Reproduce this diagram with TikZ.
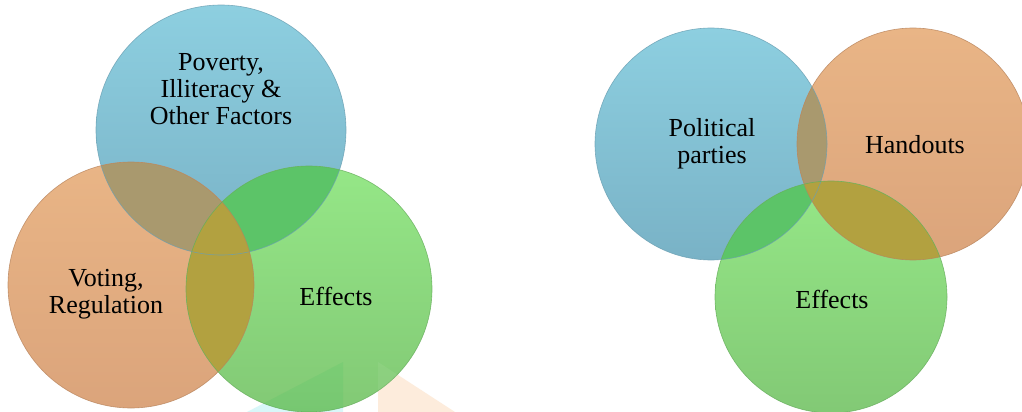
\documentclass[tikz,border=0pt]{standalone}
\usepackage{fontspec}
\setmainfont{Liberation Serif}
\definecolor{blueTop}{HTML}{8DCFE0}
\definecolor{blueBot}{HTML}{79B2C6}
\definecolor{blueEdge}{HTML}{6A9FB2}
\definecolor{orangeTop}{HTML}{E9B586}
\definecolor{orangeBot}{HTML}{DBA47B}
\definecolor{orangeEdge}{HTML}{B8845C}
\definecolor{greenTop}{HTML}{95E787}
\definecolor{greenBot}{HTML}{82C975}
\definecolor{greenEdge}{HTML}{66AD5C}
\definecolor{ovBO}{HTML}{A9996E}
\definecolor{ovBG}{HTML}{5CC468}
\definecolor{ovOG}{HTML}{B2A140}
\definecolor{wmCyan}{HTML}{1BD3E0}
\definecolor{wmOrange}{HTML}{F7A050}
\tikzset{
  bluec/.style={circle, inner sep=0pt, top color=blueTop, bottom color=blueBot},
  orangec/.style={circle, inner sep=0pt, top color=orangeTop, bottom color=orangeBot},
  greenc/.style={circle, inner sep=0pt, top color=greenTop, bottom color=greenBot},
  edge/.style={line width=0.6pt, draw opacity=0.8},
  lbl/.style={font=\fontsize{26}{27}\selectfont, align=center, text=black, inner sep=0pt}
}
\begin{document}
\begin{tikzpicture}[x=1pt,y=-1pt]
\useasboundingbox (0,0) rectangle (1022,412);
\fill[white] (0,0) rectangle (1022,412);
% ---------- watermark fragments (behind) ----------
\fill[wmCyan, fill opacity=0.17] (247,412) -- (343,362) -- (343,412) -- cycle;
\fill[wmOrange, fill opacity=0.2] (378,362) -- (455,412) -- (378,412) -- cycle;
% ---------- left diagram ----------
\node[bluec, minimum size=250pt] (lb) at (221,130) {};
\node[orangec, minimum size=246pt] (lo) at (131,285) {};
\node[greenc, minimum size=246pt] (lg) at (309,289) {};
\begin{scope}
  \clip (lb.center) circle (125);
  \fill[ovBO] (lo.center) circle (123);
  \fill[ovBG] (lg.center) circle (123);
\end{scope}
\begin{scope}
  \clip (lo.center) circle (123);
  \fill[ovOG] (lg.center) circle (123);
\end{scope}
\draw[edge, blueEdge] (lb.center) circle (125);
\draw[edge, orangeEdge] (lo.center) circle (123);
\draw[edge, greenEdge] (lg.center) circle (123);
% faint watermark tint inside the green circle
\begin{scope}
  \clip (lg.center) circle (123);
  \fill[green!45!teal, fill opacity=0.08] (247,412) -- (343,362) -- (343,412) -- cycle;
  \fill[white, fill opacity=0.06] (378,362) -- (455,412) -- (378,412) -- cycle;
\end{scope}
% ---------- right diagram ----------
\node[bluec, minimum size=232pt] (rb) at (711,144) {};
\node[orangec, minimum size=232pt] (ro) at (913,144) {};
\node[greenc, minimum size=232pt] (rg) at (831,297) {};
\begin{scope}
  \clip (rb.center) circle (116);
  \fill[ovBO] (ro.center) circle (116);
  \fill[ovBG] (rg.center) circle (116);
\end{scope}
\begin{scope}
  \clip (ro.center) circle (116);
  \fill[ovOG] (rg.center) circle (116);
\end{scope}
\draw[edge, blueEdge] (rb.center) circle (116);
\draw[edge, orangeEdge] (ro.center) circle (116);
\draw[edge, greenEdge] (rg.center) circle (116);
% ---------- labels ----------
\node[lbl] (t1) at (221,89) {Poverty,\\Illiteracy \&\\Other Factors};
\node[lbl] (t2) at (106,294) {Voting,\\Regulation};
\node[lbl] (t3) at (336,296) {Effects};
\node[lbl] (t4) at (712,144) {Political\\parties};
\node[lbl] (t5) at (915,145) {Handouts};
\node[lbl] (t6) at (832,299) {Effects};
\end{tikzpicture}
\end{document}
